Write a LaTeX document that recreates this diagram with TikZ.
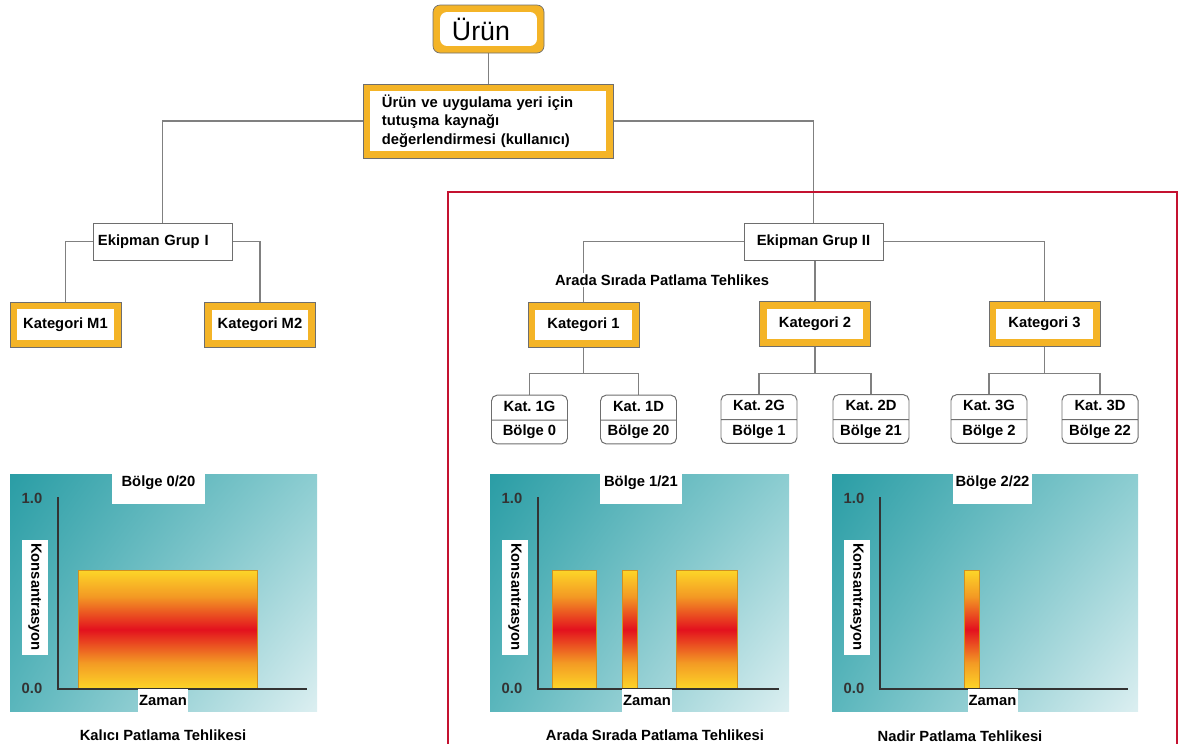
\documentclass[tikz,border=0pt]{standalone}
\usepackage{fontspec}
\setmainfont{Liberation Sans}
\usetikzlibrary{shapes.multipart,backgrounds,shadings}

\definecolor{gold}{HTML}{F4B427}
\definecolor{edgegray}{HTML}{6E6E6E}
\definecolor{linegray}{HTML}{808080}
\definecolor{framered}{HTML}{C41230}
\definecolor{tealA}{HTML}{2A9DA5}
\definecolor{tealB}{HTML}{8CCDD1}
\definecolor{tealC}{HTML}{5AB6BC}
\definecolor{tealD}{HTML}{DCEFF1}
\definecolor{barY}{HTML}{FDD628}
\definecolor{barO}{HTML}{F39A24}
\definecolor{barR}{HTML}{E3111E}
\definecolor{barE}{HTML}{D09020}
\definecolor{axisgray}{HTML}{333333}

\pgfdeclareverticalshading{flame}{100bp}{color(0bp)=(barY); color(25bp)=(barY);
   color(36bp)=(barO); color(50bp)=(barR); color(64bp)=(barO); color(75bp)=(barY);
   color(100bp)=(barY)}

\newlength\pxu
\setlength\pxu{0.025cm}

\tikzset{
   bold/.style={font=\bfseries\fontsize{10.5}{13}\selectfont},
   goldbox/.style={bold, draw=edgegray, line width=0.5pt, fill=gold, inner sep=0pt,
      minimum width=111*\pxu, minimum height=45*\pxu,
      path picture={\fill[white] ([shift={(5pt,-5pt)}]path picture bounding box.north west)
         rectangle ([shift={(-5pt,5pt)}]path picture bounding box.south east);}},
   grupbox/.style={bold, draw=edgegray, line width=0.7pt, fill=white, inner sep=0pt,
      minimum width=139*\pxu, minimum height=37*\pxu},
   zonebox/.style={bold, rectangle split, rectangle split parts=2, draw=edgegray,
      line width=0.7pt, rounded corners=4pt, fill=white, minimum width=76*\pxu,
      text height=8pt, text depth=2.6pt, inner ysep=3.2pt, inner xsep=2pt},
   link/.style={draw=linegray, line width=0.8pt},
   tick/.style={bold, text=axisgray, inner sep=0pt},
   whitelabel/.style={bold, fill=white, inner sep=0pt},
   zonelabel/.style={whitelabel, text height=9pt, text depth=12pt},
   axis/.style={draw=axisgray, line width=1.1pt},
}

% teal panel with bars and axes: #1 left, #2 right, #3 name, #4 bars
\def\flamechart#1#2#3#4{
   \shade[upper left=tealA, upper right=tealB, lower left=tealC, lower right=tealD]
      (#1,474) rectangle (#2,711);
   \foreach \xa/\xb in {#4}
      \shade[shading=flame, draw=barE, line width=0.4pt] (\xa,570) rectangle (\xb,689);
   \draw[axis] (#1+48,497) -- (#1+48,689) -- (#2-10,689);
   \node[tick] (#3one) at (#1+22,498) {1.0};
   \node[tick] (#3zero) at (#1+22,688) {0.0};
   \node[whitelabel, rotate=-90, minimum width=115*\pxu, minimum height=26*\pxu]
      (#3kons) at (#1+25,597) {Konsantrasyon};
}

\begin{document}
\frenchspacing
\begin{tikzpicture}[x=0.025cm, y=-0.025cm]
   \useasboundingbox (0,0) rectangle (1180,744);

   % tree
   \node[goldbox, rounded corners=5pt, minimum height=48*\pxu, text width=1.825cm,
      align=left, font=\fontsize{19}{22}\selectfont] (urun) at (488.5,29) {Ürün};
   \node[goldbox, minimum width=250*\pxu, minimum height=74*\pxu, text width=5.3cm,
      align=left, font=\bfseries\fontsize{10.5}{13.1}\selectfont] (assess) at (488,121)
      {Ürün ve uygulama yeri için\\ tutuşma kaynağı\\ değerlendirmesi (kullanıcı)};
   \node[grupbox, text width=3.225cm, align=left] (grupI) at (162.5,241.5) {Ekipman Grup I};
   \node[grupbox] (grupII) at (813.5,241.5) {Ekipman Grup II};

   \node[goldbox] (katM1) at (65.5,324.5) {Kategori M1};
   \node[goldbox] (katM2) at (260,325) {Kategori M2};
   \node[goldbox] (kat1) at (583.5,325) {Kategori 1};
   \node[goldbox] (kat2) at (815,324) {Kategori 2};
   \node[goldbox] (kat3) at (1044.5,324) {Kategori 3};

   \node[whitelabel, inner sep=1pt] (arada) at (662,280) {Arada Sırada Patlama Tehlikes};

   \node[zonebox] (k1G) at (529.5,419.5) {Kat. 1G \nodepart{two} Bölge 0};
   \node[zonebox] (k1D) at (638.5,419.5) {Kat. 1D \nodepart{two} Bölge 20};
   \node[zonebox] (k2G) at (759,419) {Kat. 2G \nodepart{two} Bölge 1};
   \node[zonebox] (k2D) at (871,419) {Kat. 2D \nodepart{two} Bölge 21};
   \node[zonebox] (k3G) at (989,419) {Kat. 3G \nodepart{two} Bölge 2};
   \node[zonebox] (k3D) at (1100,419) {Kat. 3D \nodepart{two} Bölge 22};

   \begin{scope}[on background layer]
      \draw[link] (urun.south) -- (urun.south |- assess.north);
      \draw[link] (assess.west) -| (grupI.north);
      \draw[link] (assess.east) -| (grupII.north);
      \draw[link] (grupI.west) -| (katM1.north);
      \draw[link] (grupI.east) -| (katM2.north);
      \draw[link] (grupII.west) -| (kat1.north);
      \draw[link] (grupII.east) -| (kat3.north);
      \draw[link] (kat2.north) -- (kat2.north |- grupII.south);
      \draw[link] (k1G.north) -- ++(0,-21) coordinate (j1) -| (k1D.north);
      \draw[link] (kat1.south) -- (kat1.south |- j1);
      \draw[link] (k2G.north) -- ++(0,-21) coordinate (j2) -| (k2D.north);
      \draw[link] (kat2.south) -- (kat2.south |- j2);
      \draw[link] (k3G.north) -- ++(0,-21) coordinate (j3) -| (k3D.north);
      \draw[link] (kat3.south) -- (kat3.south |- j3);
   \end{scope}

   % red frame, open at the bottom
   \draw[framered, line width=1.4pt] (448,746) -- (448,192) -- (1177,192) -- (1177,746);

   % charts
   \flamechart{10}{317}{A}{78/257}
   \flamechart{490}{789}{B}{552/596, 622/637, 676/737}
   \flamechart{832}{1138}{C}{964/979}

   \node[zonelabel, minimum width=93*\pxu] (Azone) at (158.5,489) {Bölge 0/20};
   \node[zonelabel, minimum width=82*\pxu] (Bzone) at (641,489) {Bölge 1/21};
   \node[zonelabel, minimum width=79*\pxu] (Czone) at (992.5,489) {Bölge 2/22};

   \node[whitelabel, minimum width=50*\pxu, minimum height=23*\pxu] (Atime) at (163,700.5) {Zaman};
   \node[whitelabel, minimum width=50*\pxu, minimum height=23*\pxu] (Btime) at (647,700) {Zaman};
   \node[whitelabel, minimum width=50*\pxu, minimum height=23*\pxu] (Ctime) at (992.5,700) {Zaman};

   \node[bold] (Acap) at (163,735) {Kalıcı Patlama Tehlikesi};
   \node[bold] (Bcap) at (655,735) {Arada Sırada Patlama Tehlikesi};
   \node[bold] (Ccap) at (960,736) {Nadir Patlama Tehlikesi};
\end{tikzpicture}
\end{document}
